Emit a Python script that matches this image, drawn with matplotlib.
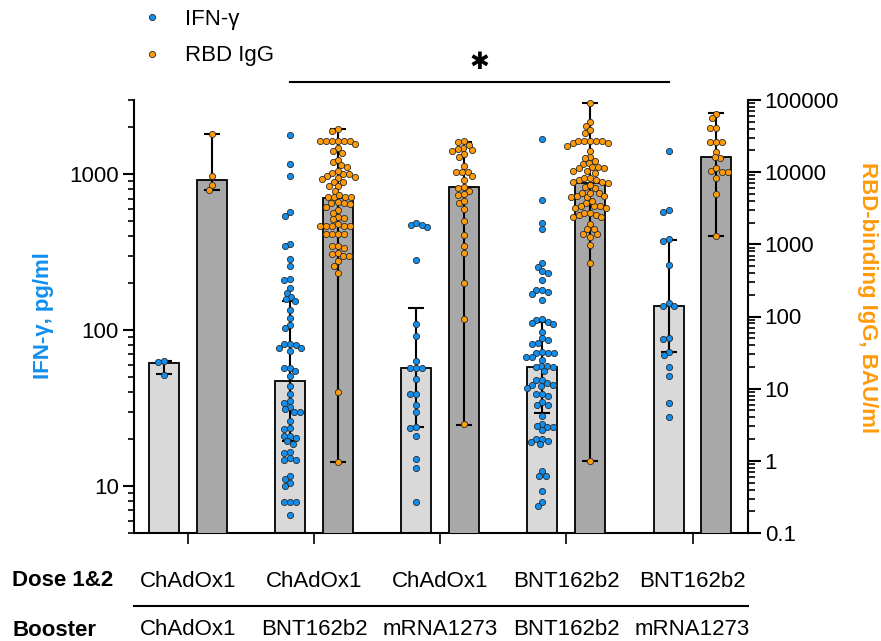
import numpy as np
import matplotlib
matplotlib.use("Agg")
import matplotlib.pyplot as plt
from matplotlib.lines import Line2D
from matplotlib.ticker import LogLocator, FuncFormatter, NullFormatter

plt.rcParams['font.family'] = ['Liberation Sans', 'DejaVu Sans']

# groups
dose12 = ['ChAdOx1', 'ChAdOx1', 'ChAdOx1', 'BNT162b2', 'BNT162b2']
booster = ['ChAdOx1', 'BNT162b2', 'mRNA1273', 'BNT162b2', 'mRNA1273']

# IFN-gamma, pg/ml : bars = median, whiskers = IQR
ifn_median = [62, 47, 57, 58, 142]
ifn_q1 = [52, 19.4, 23.8, 29.6, 72.5]
ifn_q3 = [63, 155, 138, 113, 380]

# RBD IgG, BAU/ml : bars = median, whiskers = range
igg_median = [7800, 4400, 6240, 7080, 16200]
igg_min = [5650, 0.97, 3.16, 1.0, 1306]
igg_max = [33800, 39800, 26200, 91000, 66000]

ifn_1 = [62.5, 63.5, 51.7]
ifn_2 = [1800, 1170, 970, 570, 540, 360, 345, 285, 260, 213, 210, 187, 174, 164,
         158, 154, 134, 120, 108, 104, 82, 81, 80, 77, 77, 74, 57.5, 57, 54.5, 51,
         44, 39, 35, 34, 32, 31, 30, 30, 26, 23.6, 23.3, 21, 21, 20.4, 19.4, 18.6,
         16.6, 16.2, 15.1, 14.7, 14.7, 11.6, 11.1, 10.4, 10.0, 7.9, 7.9, 7.9, 6.5]
ifn_3 = [473, 460, 471, 490, 282, 109, 92, 63, 57.5, 57.5, 57.5, 48.5, 39, 39,
         33, 30, 24, 23.6, 21, 15, 13.1, 7.9]
ifn_4 = [1680, 680, 490, 444, 268, 253, 239, 232, 210, 180, 180, 175, 170, 157,
         118, 117, 113, 111, 110, 96.7, 88.5, 86.3, 83, 82, 72.8, 71.7, 71, 71,
         67.6, 67.6, 64.4, 59, 59, 58.4, 58.4, 54.5, 48, 47.6, 45.7, 44.6, 44.6,
         44, 42.5, 39.1, 39.1, 37.6, 34.4, 33.3, 33.3, 28.3, 25.1, 24.2, 23.9,
         23.9, 22.9, 20.1, 20.1, 19.6, 19.2, 18.5, 12.5, 11.6, 11.6, 9.3, 7.9, 7.5]
ifn_5 = [1420, 587, 575, 384, 374, 263, 149, 144, 142, 88.5, 87.3, 72.8, 69.3,
         57.8, 50.5, 34.1, 27.7]

igg_1 = [33800, 8850, 6650, 5650]
igg_2 = [39300, 37600, 27000, 27000, 27000, 27000, 27000, 27000, 24300, 21400,
         18300, 19700, 13700, 14800, 11900, 12600, 9860, 8670, 8860, 9440, 9440,
         10400, 8400, 7400, 6440, 6440, 7400, 8050, 5490, 4490, 4490, 4490, 4490,
         4830, 3910, 3790, 3330, 3710, 3630, 2990, 2420, 2750, 2340, 1920, 1800,
         1800, 1800, 1800, 1800, 2220, 1410, 1410, 1410, 1410, 960, 900, 750, 950,
         680, 740, 680, 580, 500, 400, 9, 0.96]
igg_3 = [27000, 26500, 23800, 21900, 20700, 19900, 20300, 17900, 16100, 12200,
         10200, 10100, 10200, 8860, 7800, 6310, 6110, 5550, 4990, 4830, 3710, 4040,
         3090, 2130, 1360, 960, 770, 290, 92, 3.2]
igg_4 = [91900, 50100, 44100, 35300, 38400, 27000, 27000, 25100, 27000, 23100,
         25100, 27000, 27000, 19900, 16400, 14300, 13000, 13600, 15600, 11700,
         11300, 10500, 9860, 10500, 11300, 11700, 8220, 7800, 7400, 7010, 7400,
         7800, 8220, 6170, 5980, 6650, 5090, 4680, 4490, 5210, 4680, 4490, 5210,
         3710, 3400, 3160, 3400, 3160, 3400, 4040, 2750, 2550, 2370, 2370, 2550,
         2750, 1900, 1620, 1390, 1280, 1390, 1620, 980, 560, 1.0]
igg_5 = [64000, 55700, 41400, 41400, 26500, 26500, 26500, 19300, 15600, 16100,
         10500, 10200, 10200, 11300, 8220, 4940, 1320]

ifn_points = [ifn_1, ifn_2, ifn_3, ifn_4, ifn_5]
igg_points = [igg_1, igg_2, igg_3, igg_4, igg_5]

blue = '#118FEE'
orange = '#FF9A0A'
light = '#D9D9D9'
dark = '#A8A8A8'
dot_edge = '#2B2B2B'


def swarm_x(axis, xc, vals, d=6.0):
    """simple beeswarm: returns x positions (data units) so dots don't overlap"""
    vals = np.asarray(vals, float)
    pts = axis.transData.transform(np.column_stack([np.full(len(vals), xc), vals]))
    ys = pts[:, 1]
    offs = np.zeros(len(vals))
    placed = []
    for i in np.argsort(-ys):
        y = ys[i]
        near = [(px, py) for px, py in placed if abs(py - y) < d]
        cands = [0.0]
        for px, py in near:
            dx = np.sqrt(d ** 2 - (py - y) ** 2)
            cands += [px - dx, px + dx]
        cands.sort(key=lambda c: (round(abs(c), 3), c))
        for c in cands:
            if all((c - px) ** 2 + (y - py) ** 2 >= d ** 2 - 1e-6 for px, py in near):
                offs[i] = c
                break
        placed.append((offs[i], y))
    ppu = axis.transData.transform((1, 1))[0] - axis.transData.transform((0, 1))[0]
    return xc + offs / ppu


fig = plt.figure(figsize=(8.81, 6.41), dpi=100)
ax = fig.add_axes([134 / 881, 1 - 533 / 641, 614 / 881, 433 / 641])
ax2 = ax.twinx()

x = np.arange(len(dose12))
off = 0.19
w = 0.238

ax.set_xlim(-0.428, 4.44)
ax.set_yscale('log')
ax.set_ylim(5, 3000)
ax2.set_yscale('log')
ax2.set_ylim(0.1, 100000)

# bars
ax.bar(x - off, ifn_median, width=w, color=light, edgecolor='black', linewidth=1.3, zorder=2)
ax2.bar(x + off, igg_median, width=w, color=dark, edgecolor='black', linewidth=1.3, zorder=2)

# whiskers
ifn_err = [np.array(ifn_median) - np.array(ifn_q1), np.array(ifn_q3) - np.array(ifn_median)]
igg_err = [np.array(igg_median) - np.array(igg_min), np.array(igg_max) - np.array(igg_median)]
ax.errorbar(x - off, ifn_median, yerr=ifn_err, fmt='none', ecolor='black',
            elinewidth=1.5, capsize=6, capthick=1.5, zorder=3)
ax2.errorbar(x + off, igg_median, yerr=igg_err, fmt='none', ecolor='black',
             elinewidth=1.5, capsize=6, capthick=1.5, zorder=3)

# dots
for i in range(len(x)):
    xs = swarm_x(ax, x[i] - off, ifn_points[i])
    ax.scatter(xs, ifn_points[i], s=20, color=blue, edgecolors=dot_edge,
               linewidths=0.6, zorder=4, clip_on=False)
    xs = swarm_x(ax2, x[i] + off, igg_points[i])
    ax2.scatter(xs, igg_points[i], s=20, color=orange, edgecolors=dot_edge,
                linewidths=0.6, zorder=4, clip_on=False)

# axes styling
for a in (ax, ax2):
    a.spines['top'].set_visible(False)
    for s in ('left', 'right', 'bottom'):
        a.spines[s].set_linewidth(1.5)
ax.spines['right'].set_visible(False)
ax2.spines['left'].set_visible(False)
ax2.spines['bottom'].set_visible(False)

fmt = FuncFormatter(lambda v, p: '%g' % v)
for a in (ax, ax2):
    a.yaxis.set_major_locator(LogLocator(base=10, numticks=12))
    a.yaxis.set_minor_locator(LogLocator(base=10, subs=np.arange(2, 10), numticks=12))
    a.yaxis.set_major_formatter(fmt)
    a.yaxis.set_minor_formatter(NullFormatter())
ax.tick_params(axis='y', which='major', length=8, width=1.5, labelsize=16, pad=3)
ax.tick_params(axis='y', which='minor', length=4, width=1.2)
ax2.tick_params(axis='y', which='major', length=9, width=1.5, labelsize=16, pad=3)
ax2.tick_params(axis='y', which='minor', length=5, width=1.2)

ax.set_xticks(x)
ax.set_xticklabels([])
ax.tick_params(axis='x', length=8, width=1.2)

ax.text(-0.148, 0.503, 'IFN-γ, pg/ml', transform=ax.transAxes, rotation=90,
        ha='center', va='center', fontsize=16, fontweight='bold', color=blue)
ax.text(1.195, 0.543, 'RBD-binding IgG, BAU/ml', transform=ax.transAxes, rotation=270,
        ha='center', va='center', fontsize=16, fontweight='bold', color=orange)

# group labels below the axis
xt = ax.get_xaxis_transform()
for i in range(len(x)):
    ax.text(x[i], -0.111, dose12[i], transform=xt, ha='center', va='center', fontsize=16)
    ax.text(x[i], -0.224, booster[i], transform=xt, ha='center', va='center', fontsize=16)
fig.text(12 / 881, 1 - 581 / 641, 'Dose 1&2', ha='left', va='center', fontsize=16, fontweight='bold')
fig.text(12 / 881, 1 - 630 / 641, 'Booster', ha='left', va='center', fontsize=16, fontweight='bold')
ax.plot([0, 1], [-0.169, -0.169], transform=ax.transAxes, color='black', lw=1.5, clip_on=False)

# significance bar
ax.plot([1 - off, 4 - off], [1.042, 1.042], transform=xt, color='black', lw=1.5, clip_on=False)
ax.text((5 - 2 * off) / 2, 1.088, '✱', transform=xt, ha='center', va='center',
        fontsize=17, family=['DejaVu Sans'], color='black')

# legend
handles = [Line2D([], [], ls='', marker='o', markersize=4.5, markerfacecolor=blue,
                  markeredgecolor=dot_edge, markeredgewidth=0.6, label='IFN-γ'),
           Line2D([], [], ls='', marker='o', markersize=4.5, markerfacecolor=orange,
                  markeredgecolor=dot_edge, markeredgewidth=0.6, label='RBD IgG')]
fig.legend(handles=handles, loc='upper left', bbox_to_anchor=(132 / 881, 1.0),
           frameon=False, fontsize=16, handlelength=1.0, handletextpad=1.0,
           labelspacing=0.7, borderaxespad=0)

fig.savefig('out.png', dpi=100)
